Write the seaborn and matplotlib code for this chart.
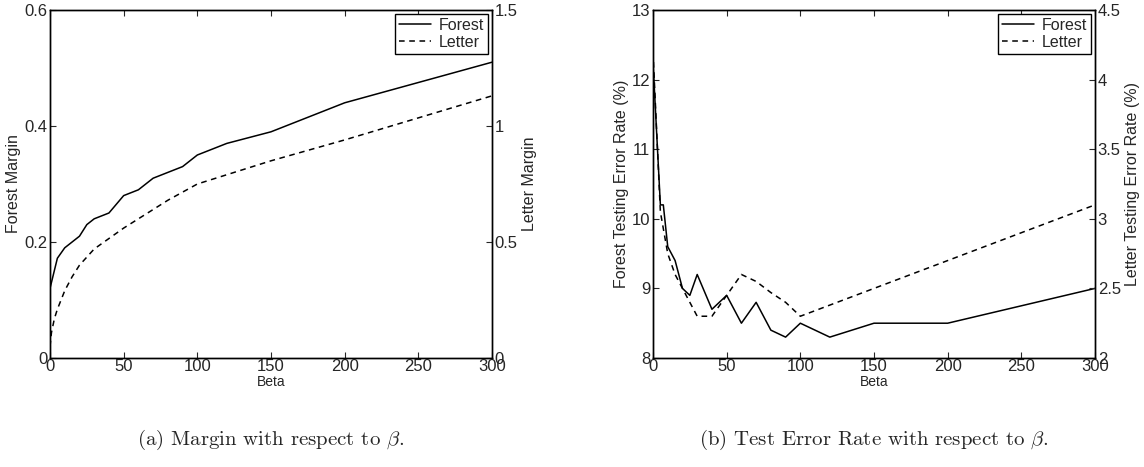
import numpy as np
import pandas as pd
import matplotlib
matplotlib.use("Agg")
import matplotlib.pyplot as plt
from matplotlib.ticker import FormatStrFormatter
import seaborn as sns

# (a) margin vs beta
beta_fm = [0, 5, 10, 15, 20, 25, 30, 40, 50, 60, 70, 80, 90, 100, 120, 150, 200, 300]
forest_margin = [0.12, 0.172, 0.19, 0.20, 0.21, 0.23, 0.24, 0.25, 0.28, 0.29, 0.31,
                 0.32, 0.33, 0.35, 0.37, 0.39, 0.44, 0.51]
beta_lm = [0, 1, 3, 5, 10, 15, 20, 30, 40, 50, 60, 70, 80, 90, 100, 150, 200, 300]
letter_margin = [0.05, 0.11, 0.17, 0.21, 0.29, 0.35, 0.40, 0.47, 0.515, 0.56, 0.60,
                 0.64, 0.68, 0.715, 0.75, 0.85, 0.94, 1.13]

# (b) test error vs beta
beta_fe = [0, 5, 7, 10, 15, 20, 25, 30, 40, 50, 60, 70, 80, 90, 100, 120, 150, 200, 300]
forest_err = [12.25, 10.2, 10.2, 9.6, 9.4, 9.0, 8.9, 9.2, 8.7, 8.9, 8.5, 8.8, 8.4,
              8.3, 8.5, 8.3, 8.5, 8.5, 9.0]
beta_le = [0, 5, 10, 15, 20, 25, 30, 40, 50, 60, 70, 80, 90, 100, 150, 200, 300]
letter_err = [4.2, 3.05, 2.75, 2.6, 2.5, 2.4, 2.3, 2.3, 2.45, 2.6, 2.55, 2.47, 2.4,
              2.3, 2.5, 2.7, 3.1]

sns.set_style("white")
plt.rcParams["font.family"] = ["Liberation Sans", "DejaVu Sans"]
plt.rcParams["mathtext.fontset"] = "cm"
plt.rcParams["xtick.direction"] = "in"
plt.rcParams["ytick.direction"] = "in"
plt.rcParams["axes.edgecolor"] = "black"
plt.rcParams["axes.linewidth"] = 1.0

fig = plt.figure(figsize=(11.44, 4.67), dpi=100)
ax_a = fig.add_axes([50 / 1144, 1 - 358 / 467, 442 / 1144, 348 / 467])
ax_b = fig.add_axes([653 / 1144, 1 - 358 / 467, 442 / 1144, 348 / 467])

DASH = (3.7, 3.0)


def panel(ax, x1, y1, x2, y2, ylim1, ylim2, yt1, yt2, lab1, lab2):
    d1 = pd.DataFrame({"beta": x1, "v": y1})
    d2 = pd.DataFrame({"beta": x2, "v": y2})
    tw = ax.twinx()
    sns.lineplot(data=d1, x="beta", y="v", ax=ax, color="black", lw=1.1, label="Forest")
    sns.lineplot(data=d2, x="beta", y="v", ax=tw, color="black", lw=1.1, label="Letter",
                 dashes=False)
    tw.lines[0].set_dashes(DASH)
    ax.set_xlim(0, 300)
    ax.set_ylim(*ylim1)
    tw.set_ylim(*ylim2)
    ax.set_xticks(range(0, 301, 50))
    ax.set_yticks(yt1)
    tw.set_yticks(yt2)
    ax.yaxis.set_major_formatter(FormatStrFormatter("%g"))
    tw.yaxis.set_major_formatter(FormatStrFormatter("%g"))
    ax.tick_params(axis="x", top=True, bottom=True, length=4, pad=1, labelsize=12)
    ax.tick_params(axis="y", left=True, right=False, length=4, pad=2, labelsize=12)
    tw.tick_params(axis="y", right=True, length=4, pad=2, labelsize=12)
    ax.set_xlabel("Beta", fontsize=10, labelpad=0.5)
    ax.set_ylabel(lab1, fontsize=11.5, labelpad=2)
    tw.set_ylabel(lab2, fontsize=11.5, labelpad=3)
    h1, l1 = ax.get_legend_handles_labels()
    h2, l2 = tw.get_legend_handles_labels()
    if ax.get_legend():
        ax.get_legend().remove()
    if tw.get_legend():
        tw.get_legend().remove()
    leg = tw.legend(h1 + h2, l1 + l2, loc="upper right", fontsize=11.5, frameon=True,
                    fancybox=False, framealpha=1, edgecolor="black", borderpad=0.25,
                    labelspacing=0.1, handlelength=2.0, handletextpad=0.5,
                    borderaxespad=0.25)
    leg.get_frame().set_linewidth(1.0)
    leg.legend_handles[1].set_dashes(DASH)
    for s in list(ax.spines.values()) + list(tw.spines.values()):
        s.set_color("black")


panel(ax_a, beta_fm, forest_margin, beta_lm, letter_margin, (0, 0.6), (0, 1.5),
      [0, 0.2, 0.4, 0.6], [0, 0.5, 1, 1.5], "Forest Margin", "Letter Margin")
panel(ax_b, beta_fe, forest_err, beta_le, letter_err, (8, 13), (2, 4.5),
      [8, 9, 10, 11, 12, 13], [2, 2.5, 3, 3.5, 4, 4.5],
      "Forest Testing Error Rate (%)", "Letter Testing Error Rate (%)")

fig.text(271 / 1144, 1 - 440 / 467, r"(a) Margin with respect to $\beta$.",
         ha="center", va="center", fontsize=15, family="cmr10")
fig.text(874 / 1144, 1 - 440 / 467, r"(b) Test Error Rate with respect to $\beta$.",
         ha="center", va="center", fontsize=15, family="cmr10")

fig.savefig("out.png", dpi=100)
plt.close(fig)
